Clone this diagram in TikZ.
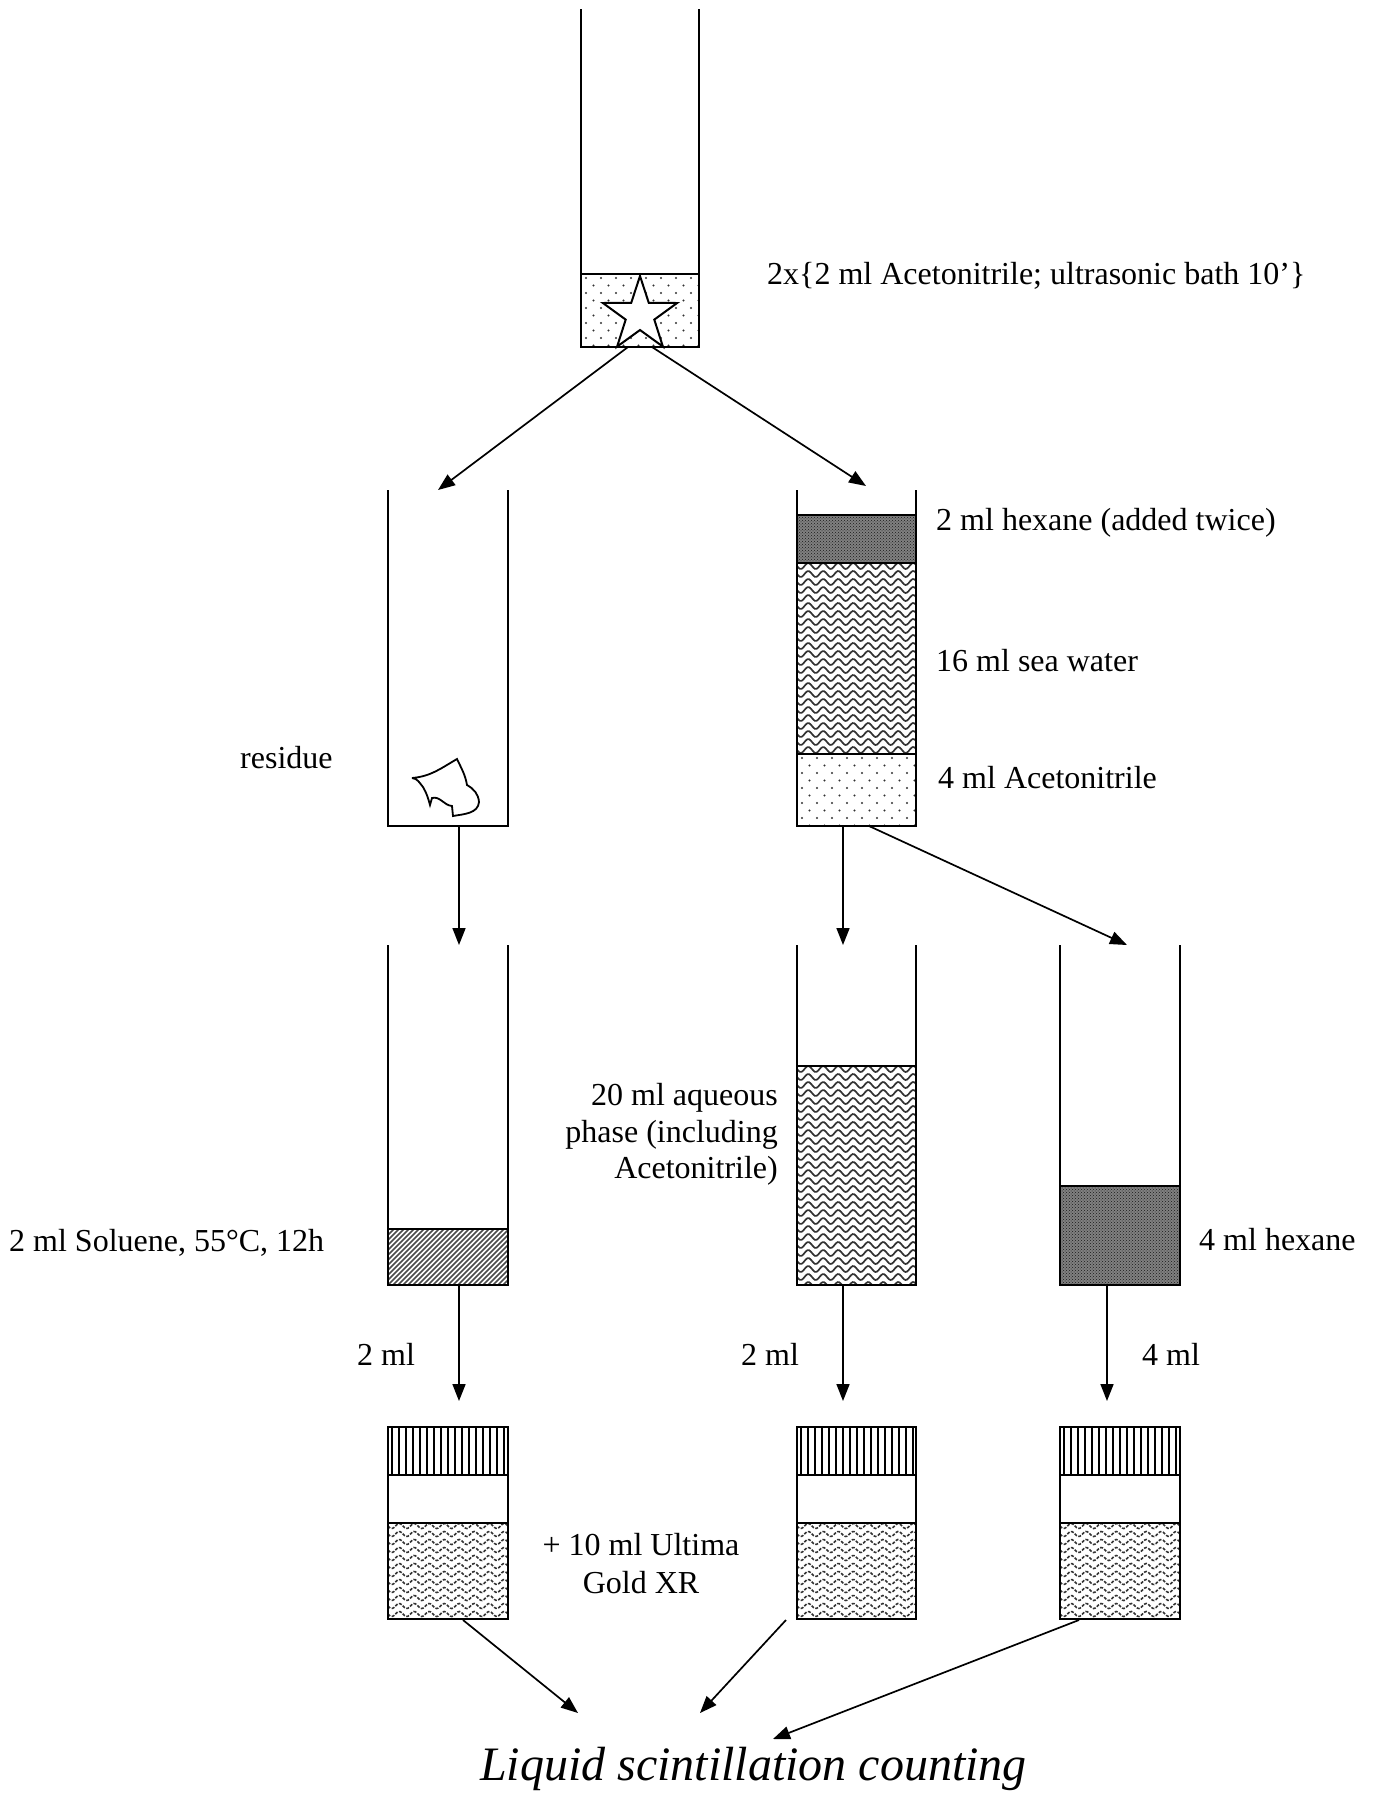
\documentclass[tikz,border=0pt]{standalone}
\usepackage{fontspec}
\setmainfont{Liberation Serif}
\usetikzlibrary{arrows.meta,patterns}
\tikzset{
  tube/.style={line width=2pt},
  arr/.style={line width=1.7pt,-{Triangle[length=17pt,width=13pt]}},
  lbl/.style={font=\fontsize{32}{38}\selectfont,inner sep=0pt},
  bigl/.style={font=\fontsize{48}{56}\selectfont\itshape,inner sep=0pt},
  seawave/.style={line width=1.7pt,black!80},
  vialwave/.style={line width=1.6pt,black!80,dash pattern=on 3pt off 1.5pt},
  dotc/.style={black!80},
}
\newcommand\wavyfill[6]{%
  \begin{scope}
    \clip (#1,#3) rectangle (#2,#4);
    \pgfmathsetmacro\wya{#3+3}\pgfmathsetmacro\wyb{#3+11}
    \foreach \yy in {\wya,\wyb,...,#4}{%
      \draw[#5] plot[domain=#1:#2,samples=80,smooth] (\x,{\yy+#6*sin(24*(\x-#1))});
    }
  \end{scope}}
\newcommand\stipplefill[4]{%
  \begin{scope}
    \clip (#1,#3) rectangle (#2,#4);
    \foreach \j in {0,...,10}{%
      \foreach \i in {0,...,8}{%
        \fill[dotc] ({#1+5+15*\i+7.5*mod(\j,2)},{#3+4+7.5*\j}) circle (1.2pt);
      }
    }
  \end{scope}}
\newcommand\hexfill[4]{%
  \fill[black!50] (#1,#3) rectangle (#2,#4);
  \fill[pattern=crosshatch dots,pattern color=black!90] (#1,#3) rectangle (#2,#4);}
\newcommand\vialat[3]{% x1 x2 name
  \begin{scope}
    \clip (#1,1427) rectangle (#2,1475);
    \foreach \k in {4,11,...,125}{\draw[line width=1.6pt] ({#1+\k},1427) -- ({#1+\k},1475);}
  \end{scope}
  \wavyfill{#1}{#2}{1523}{1619}{vialwave}{2.5}
  \draw[tube] (#1,1427) rectangle (#2,1619);
  \draw[tube] (#1,1475) -- (#2,1475);
  \draw[tube] (#1,1523) -- (#2,1523);
  \coordinate (#3top) at ({(#1+#2)/2},1427);}
\begin{document}
\begin{tikzpicture}[x=1pt,y=-1pt]
\useasboundingbox (0,0) rectangle (1375,1794);
\fill[white] (0,0) rectangle (1375,1794);

% ---- top tube
\stipplefill{581}{699}{274}{347}
\draw[tube,fill=white] (640,276) -- (631.2,302.9) -- (602.9,303.0) -- (625.7,319.6)
  -- (617.1,346.6) -- (640,330) -- (662.9,346.6) -- (654.3,319.6) -- (677.1,303.0)
  -- (648.8,302.9) -- cycle;
\draw[tube] (581,274) -- (699,274);
\draw[tube] (581,9) -- (581,347) -- (699,347) -- (699,9);
\coordinate (t0L) at (628,347);
\coordinate (t0R) at (652,347);
\node[lbl,anchor=base west] (lab0) at (767,284) {2x\{2 ml Acetonitrile; ultrasonic bath 10’\}};

% ---- row 2 left: residue
\draw[tube] (388,490) -- (388,826) -- (508,826) -- (508,490);
\draw[line width=1.8pt] (412,778) to[out=5,in=210] (457,759) to[out=-65,in=100] (467,785)
  to[out=-30,in=95] (479,802) to[out=-95,in=10] (453,816) -- (452,806)
  to[out=175,in=15] (432,798) -- (430,805) to[out=105,in=-60] (423,787)
  to[out=130,in=-5] (412,778);
\coordinate (t1top) at (438,490);
\coordinate (t1b) at (459,826);
\node[lbl,anchor=base west] (labres) at (240,768) {residue};

% ---- row 2 right: separation tube
\hexfill{797}{916}{515}{563}
\wavyfill{797}{916}{563}{754}{seawave}{3}
\stipplefill{797}{916}{754}{826}
\draw[tube] (797,515) -- (916,515);
\draw[tube] (797,563) -- (916,563);
\draw[tube] (797,754) -- (916,754);
\draw[tube] (797,490) -- (797,826) -- (916,826) -- (916,490);
\coordinate (t2top) at (866,486);
\coordinate (t2b) at (843,826);
\coordinate (t2bd) at (869,826);
\node[lbl,anchor=base west] (labhex) at (936,530) {2 ml hexane (added twice)};
\node[lbl,anchor=base west] (labsea) at (936,671) {16 ml sea water};
\node[lbl,anchor=base west] (labacn) at (938,788) {4 ml Acetonitrile};

% ---- row 3 left: soluene
\begin{scope}
  \clip (388,1229) rectangle (508,1285);
  \foreach \k in {-60,-55,...,126}{\draw[line width=1.7pt,black!70] ({388+\k},1285) -- ++(60,-60);}
\end{scope}
\draw[tube] (388,1229) -- (508,1229);
\draw[tube] (388,945) -- (388,1285) -- (508,1285) -- (508,945);
\coordinate (t3top) at (459,945);
\coordinate (t3b) at (459,1285);
\node[lbl,anchor=base west] (labsol) at (9,1251) {2 ml Soluene, 55°C, 12h};

% ---- row 3 middle: aqueous
\wavyfill{797}{916}{1066}{1285}{seawave}{3}
\draw[tube] (797,1066) -- (916,1066);
\draw[tube] (797,945) -- (797,1285) -- (916,1285) -- (916,945);
\coordinate (t4top) at (843,945);
\coordinate (t4b) at (843,1285);
\node[lbl,anchor=base east] (labaq1) at (778,1105) {20 ml aqueous};
\node[lbl,anchor=base east] (labaq2) at (778,1142) {phase (including};
\node[lbl,anchor=base east] (labaq3) at (778,1178) {Acetonitrile)};

% ---- row 3 right: hexane
\hexfill{1060}{1180}{1186}{1285}
\draw[tube] (1060,1186) -- (1180,1186);
\draw[tube] (1060,945) -- (1060,1285) -- (1180,1285) -- (1180,945);
\coordinate (t5top) at (1127,945);
\coordinate (t5b) at (1107,1285);
\node[lbl,anchor=base west] (labhex2) at (1199,1250) {4 ml hexane};

% ---- vials
\vialat{388}{508}{v1}
\vialat{797}{916}{v2}
\vialat{1060}{1180}{v3}
\coordinate (v1a) at (459,1401);
\coordinate (v2a) at (843,1401);
\coordinate (v3a) at (1107,1401);
\coordinate (v1b) at (463,1620);
\coordinate (v2b) at (786,1620);
\coordinate (v3b) at (1079,1620);
\node[lbl,anchor=base west] (labv1) at (357,1365) {2 ml};
\node[lbl,anchor=base west] (labv2) at (741,1365) {2 ml};
\node[lbl,anchor=base west] (labv3) at (1142,1365) {4 ml};
\node[lbl,anchor=base] (labug1) at (641,1555) {+ 10 ml Ultima};
\node[lbl,anchor=base] (labug2) at (641,1593) {Gold XR};

% ---- final
\node[bigl,anchor=base west] (lsc) at (480,1780) {Liquid scintillation counting};
\coordinate (lsc1) at (578,1713);
\coordinate (lsc2) at (700,1713);
\coordinate (lsc3) at (773,1739);

% ---- arrows
\draw[arr] (t0L) -- (t1top);
\draw[arr] (t0R) -- (t2top);
\draw[arr] (t1b) -- (t3top);
\draw[arr] (t2b) -- (t4top);
\draw[arr] (t2bd) -- (t5top);
\draw[arr] (t3b) -- (v1a);
\draw[arr] (t4b) -- (v2a);
\draw[arr] (t5b) -- (v3a);
\draw[arr] (v1b) -- (lsc1);
\draw[arr] (v2b) -- (lsc2);
\draw[arr] (v3b) -- (lsc3);
\end{tikzpicture}
\end{document}
